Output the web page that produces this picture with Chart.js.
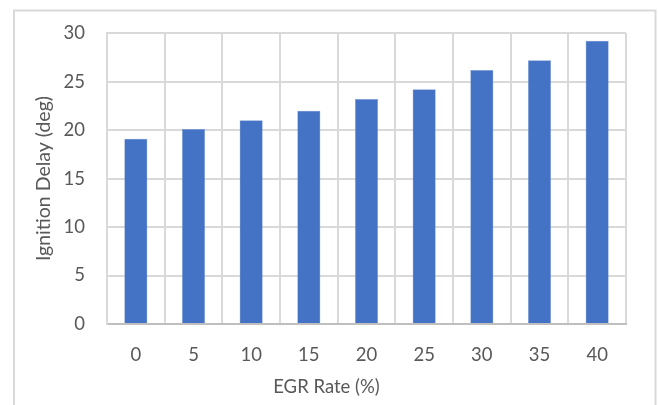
<!DOCTYPE html>
<html>
<head>
<meta charset="utf-8">
<script src="https://cdn.jsdelivr.net/npm/chart.js@4/dist/chart.umd.min.js"></script>
<style>
  html, body { margin: 0; padding: 0; background: #fff; }
  #wrap { width: 659px; height: 405px; position: relative; }
</style>
</head>
<body>
<div id="wrap"><canvas id="c" width="659" height="405"></canvas></div>
<script>
// EGR rate categories and measured ignition delay
const egrRates = ['0', '5', '10', '15', '20', '25', '30', '35', '40'];
const ignitionDelay = [19.1, 20.1, 21.0, 22.0, 23.2, 24.2, 26.2, 27.2, 29.2];
const yTicks = [0, 5, 10, 15, 20, 25, 30];

const xTitle = 'EGR Rate (%)';
const yTitle = 'Ignition Delay (deg)';

const textColor = '#595959';
const fontFamily = 'Lato, "Open Sans", sans-serif';

// white background plus the light frame around the chart
const frame = {
  id: 'frame',
  beforeDraw(chart) {
    const ctx = chart.ctx;
    ctx.save();
    ctx.fillStyle = '#ffffff';
    ctx.fillRect(0, 0, chart.width, chart.height);
    ctx.strokeStyle = '#d9d9d9';
    ctx.lineWidth = 2;
    ctx.strokeRect(14, 10.5, 641.5, 500);
    ctx.restore();
  }
};

// x axis title, placed a little left of the plot centre
const xAxisTitle = {
  id: 'xAxisTitle',
  afterDraw(chart) {
    const ctx = chart.ctx;
    const area = chart.chartArea;
    ctx.save();
    ctx.fillStyle = textColor;
    ctx.font = '18.5px ' + fontFamily;
    ctx.textAlign = 'center';
    ctx.textBaseline = 'middle';
    ctx.fillText(xTitle, (area.left + area.right) / 2 - 40, 387);
    ctx.restore();
  }
};

new Chart(document.getElementById('c'), {
  type: 'bar',
  data: {
    labels: egrRates,
    datasets: [{
      data: ignitionDelay,
      backgroundColor: '#4472c4',
      borderColor: '#7f9fd9',
      borderWidth: 0.5,
      barPercentage: 0.4,
      categoryPercentage: 1.0
    }]
  },
  options: {
    responsive: false,
    animation: false,
    devicePixelRatio: 1,
    layout: { padding: { left: 28, right: 33, top: 31, bottom: 0 } },
    plugins: {
      legend: { display: false },
      tooltip: { enabled: false }
    },
    scales: {
      x: {
        grid: { color: '#d9d9d9', lineWidth: 2, drawTicks: false, offset: true },
        border: { color: '#bfbfbf', width: 2 },
        ticks: { color: textColor, font: { family: fontFamily, size: 18.5 }, padding: 20 },
        afterFit(scale) { scale.height = 81; }
      },
      y: {
        min: 0,
        max: 30,
        afterBuildTicks(scale) { scale.ticks = yTicks.map(v => ({ value: v })); },
        grid: { color: '#d9d9d9', lineWidth: 2, drawTicks: false },
        border: { color: '#d9d9d9', width: 2 },
        ticks: { color: textColor, font: { family: fontFamily, size: 18.5 }, padding: 22 },
        title: {
          display: true,
          text: yTitle,
          color: textColor,
          font: { family: fontFamily, size: 19.5 },
          padding: { top: 4, bottom: 4 }
        },
        afterFit(scale) { scale.width = 79; }
      }
    }
  },
  plugins: [frame, xAxisTitle]
});
</script>
</body>
</html>
